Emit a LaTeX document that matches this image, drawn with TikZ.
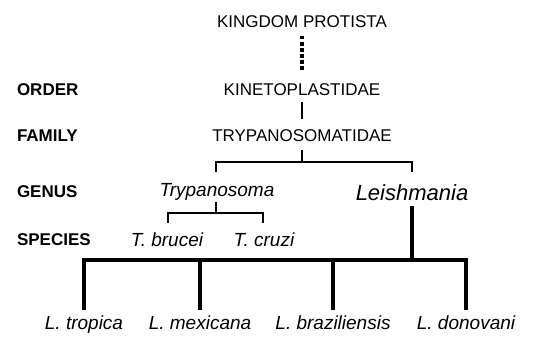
\documentclass[tikz,border=0pt]{standalone}
\usepackage{fontspec}
\setmainfont{Liberation Sans}
\begin{document}
\begin{tikzpicture}[x=1pt,y=-1pt,
  every node/.style={inner sep=0pt,outer sep=0pt,anchor=base},
  taxon/.style={font=\fontsize{17}{20}\selectfont},
  rank/.style={font=\fontsize{17}{20}\selectfont\bfseries,anchor=base west},
  genus/.style={font=\fontsize{19}{22}\selectfont\itshape},
  big/.style={font=\fontsize{22}{26}\selectfont\itshape},
  thin/.style={line width=2pt},
  thick/.style={line width=3.5pt},
  dots/.style={line width=3.5pt,dash pattern=on 3.5pt off 2.5pt}]
\useasboundingbox (0,0) rectangle (534,337);
% texts
\node[taxon] (kp) at (302,27.6) {KINGDOM PROTISTA};
\node[rank] (ro) at (17,95) {ORDER};
\node[taxon] (kin) at (302,95) {KINETOPLASTIDAE};
\node[rank] (rf) at (17,141) {FAMILY};
\node[taxon] (try) at (302,141) {TRYPANOSOMATIDAE};
\node[rank] (rg) at (17,197) {GENUS};
\node[genus] (tg) at (217,196) {Trypanosoma};
\node[big] (lg) at (412,200) {Leishmania};
\node[rank] (rs) at (17,245) {SPECIES};
\node[genus] (tb) at (167,246) {T. brucei};
\node[genus] (tc) at (264,246) {T. cruzi};
\node[genus] (l1) at (84,329) {L. tropica};
\node[genus] (l2) at (200,329) {L. mexicana};
\node[genus] (l3) at (333,329) {L. braziliensis};
\node[genus] (l4) at (466,329) {L. donovani};
% junction coordinates
\coordinate (j1) at (302,162);
\coordinate (j2) at (216,213);
\coordinate (j3) at (412,260);
% connectors
\draw[dots] (302,36) -- (302,72);
\draw[thin] (302,102) -- (302,119);
\draw[thin] (302,150) -- (j1);
\draw[thin] (216,172) -- (216,162) -- (412,162) -- (412,172);
\draw[thin] (216,202) -- (j2);
\draw[thin] (168,223) -- (168,213) -- (263,213) -- (263,223);
\draw[thick] (412,206) -- (j3);
\draw[thick] (84,310) -- (84,260) -- (466,260) -- (466,310);
\draw[thick] (200,260) -- (200,310);
\draw[thick] (333,260) -- (333,310);
\end{tikzpicture}
\end{document}
